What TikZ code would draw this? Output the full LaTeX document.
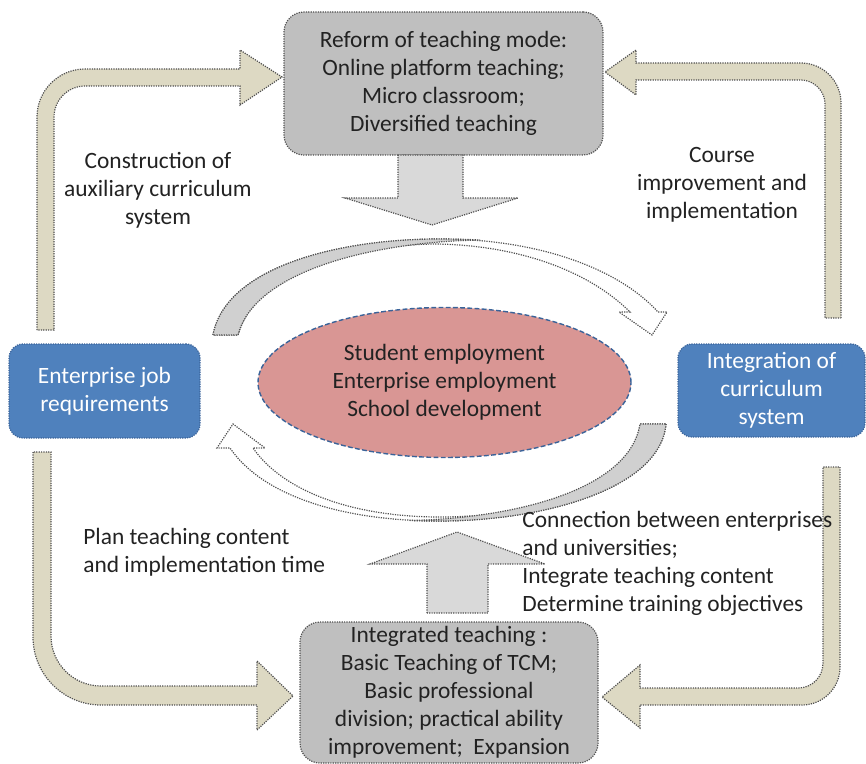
\documentclass[tikz,border=0pt]{standalone}
\usepackage{fontspec}
\setmainfont{Carlito}
\usetikzlibrary{shapes.geometric}
\definecolor{tanfill}{HTML}{DDD9C3}
\definecolor{boxgray}{HTML}{BFBFBF}
\definecolor{lightgray}{HTML}{D9D9D9}
\definecolor{bandgray}{HTML}{D0D0D0}
\definecolor{jobblue}{HTML}{4F81BD}
\definecolor{blueline}{HTML}{3A6399}
\definecolor{rosefill}{HTML}{D99694}
\definecolor{dotline}{HTML}{505050}
\definecolor{ink}{HTML}{222222}

\begin{document}
\begin{tikzpicture}[x=0.5pt,y=-0.5pt,
        every node/.style={font=\fontsize{11.7}{14}\selectfont, text=ink, align=center},
        dotframe/.style={draw=dotline, line width=0.6pt, dash pattern=on 0.6pt off 0.6pt},
        tan arrow/.style={dotframe, fill=tanfill},
        block arrow/.style={dotframe, fill=lightgray},
        band/.style={dotframe, fill=white},
        band shade/.style={dotframe, fill=bandgray},
        gray box/.style={dotframe, fill=boxgray, rounded corners=10pt,
          minimum width=#1, inner sep=2pt},
        blue box/.style={draw=blueline, line width=0.6pt, dash pattern=on 0.6pt off 0.6pt,
          fill=jobblue, rounded corners=7pt, text=white, minimum width=#1, inner sep=2pt},
        note/.style={inner sep=0pt},
      ]
      \useasboundingbox (0,0) rectangle (866,764);

      % boxes and the goal ellipse
      \node[gray box=159.5pt, minimum height=71.5pt] (reform) at (443.5,83.5)
        {Reform of teaching mode:\\ Online platform teaching;\\ Micro classroom;\\ Diversified teaching};
      \node[gray box=149pt, minimum height=70.5pt] (integrated) at (449,692.5)
        {Integrated teaching :\\ Basic Teaching of TCM;\\ Basic professional\\ division; practical ability\\ improvement; \ Expansion};
      \node[blue box=95.5pt, minimum height=47pt] (job) at (104.5,391)
        {Enterprise job\\ requirements};
      \node[blue box=93.5pt, minimum height=46.5pt] (curriculum) at (771.5,390.5)
        {Integration of\\ curriculum\\ system};
      \node[ellipse, draw=blueline, line width=0.7pt, dash pattern=on 2.4pt off 1.2pt,
        fill=rosefill, minimum width=186.5pt, minimum height=75pt, inner sep=0pt] (goal) at (444.5,382.5)
        {Student employment\\ Enterprise employment\\ School development};

      % bent arrows around the cycle
      \draw[tan arrow] (37,330) -- (37,117) .. controls (37,90.5) and (58.5,69) .. (85,69)
        -- (240,69) -- (240,50) -- (282,77) -- (240,105) -- (240,86) -- (85,86)
        .. controls (68,86) and (54,100) .. (54,117) -- (54,330) -- cycle;
      \draw[tan arrow] (841,318) -- (841,103) .. controls (841,81) and (823,63) .. (801,63)
        -- (636,63) -- (636,50) -- (605,72) -- (636,95) -- (636,80) -- (801,80)
        .. controls (814,80) and (825,91) .. (825,104) -- (825,318) -- cycle;
      \draw[tan arrow] (33,452) -- (33,637) .. controls (33,674.5) and (63.5,705) .. (101,705)
        -- (257,705) -- (257,730) -- (293,696) -- (257,661) -- (257,686) -- (101,686)
        .. controls (73.4,686) and (51,663.6) .. (51,636) -- (51,452) -- cycle;
      \draw[tan arrow] (840,467) -- (840,667) .. controls (840,688) and (823,705) .. (802,705)
        -- (640,705) -- (640,728) -- (602,697) -- (640,665) -- (640,688) -- (798,688)
        .. controls (812,688) and (823,677) .. (823,663) -- (823,467) -- cycle;

      % straight arrows in and out of the middle
      \draw[block arrow] (398,155) -- (463,155) -- (463,198) -- (518,198) -- (432,225)
        -- (345,198) -- (398,198) -- cycle;
      \draw[block arrow] (427,613) -- (427,564) -- (370,564) -- (457,532) -- (545,564)
        -- (488,564) -- (488,613) -- cycle;

      % curved arrows round the ellipse
      \draw[band] (213,335) .. controls (225,270) and (330,240) .. (435,239)
        .. controls (540,238) and (620,270) .. (658,312) -- (667,312) -- (652,335)
        -- (619,312) -- (630,312) .. controls (590,272) and (520,245) .. (435,244)
        .. controls (340,245) and (255,275) .. (238,335) -- cycle;
      \draw[band shade] (213,335) .. controls (225,270) and (330,240) .. (435,239)
        .. controls (455,239) and (470,239.5) .. (480,240)
        .. controls (370,242) and (254,272) .. (238,335) -- cycle;
      \draw[band] (666,424) .. controls (660,490) and (540,521) .. (440,521)
        .. controls (340,521) and (262,495) .. (230,448) -- (217,448) -- (233,424)
        -- (265,448) -- (253,448) .. controls (282,490) and (350,517) .. (440,517)
        .. controls (540,517) and (633,485) .. (640,424) -- cycle;
      \draw[band shade] (666,424) .. controls (660,490) and (540,521) .. (440,521)
        .. controls (430,521) and (420,521) .. (410,520.5)
        .. controls (520,518) and (630,488) .. (640,424) -- cycle;

      % labels beside the arrows
      \node[note] (auxiliary) at (158,190) {Construction of\\ auxiliary curriculum\\ system};
      \node[note] (course) at (722,185) {Course\\ improvement and\\ implementation};
      \node[note, anchor=west, align=left] (plan) at (83,552)
        {Plan teaching content\\ and implementation time};
      \node[note, anchor=west, align=left] (connection) at (522,563.5)
        {Connection between enterprises\\ and universities;\\ Integrate teaching content\\ Determine training objectives};
    \end{tikzpicture}
\end{document}
